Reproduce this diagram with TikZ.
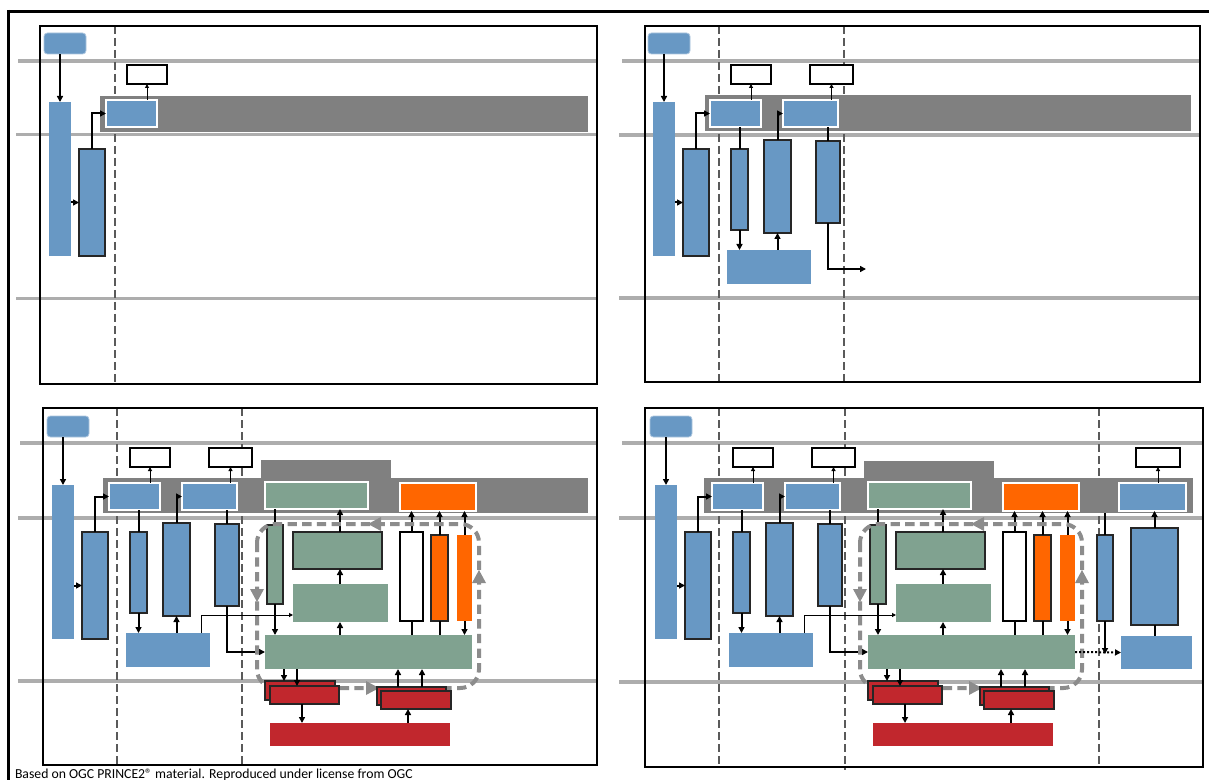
\documentclass[tikz,border=0pt]{standalone}
\usepackage{fontspec}
\setmainfont{Carlito}
\usetikzlibrary{arrows.meta}
\definecolor{pblue}{HTML}{6898C4}
\definecolor{pgreen}{HTML}{80A290}
\definecolor{porange}{HTML}{FF6600}
\definecolor{pred}{HTML}{C1272D}
\definecolor{pband}{HTML}{808080}
\definecolor{plane}{HTML}{ADADAD}
\definecolor{pdash}{HTML}{5A5A5A}
\definecolor{ploop}{HTML}{8C8C8C}
\definecolor{pedge}{HTML}{262626}
\tikzset{
  every node/.style={inner sep=0pt, outer sep=0pt},
  bluebar/.style={fill=pblue},
  bluebox/.style={fill=pblue, draw=pedge, line width=1.1pt},
  inband/.style={draw=white, line width=1.2pt},
  wbox/.style={fill=white, draw=black, line width=0.9pt},
  rbx/.style={fill=pblue, draw=pblue!55!white, line width=0.6pt, rounded corners=2.5pt},
  gbox/.style={fill=pgreen, draw=pedge, line width=1.1pt},
  gbar/.style={fill=pgreen},
  obox/.style={fill=porange, draw=pedge, line width=1.1pt},
  obar/.style={fill=porange},
  rbox/.style={fill=pred, draw=pedge, line width=1.1pt},
  rbar/.style={fill=pred},
  arr/.style={line width=1.5pt, -{Triangle[length=4.5pt,width=4.5pt]}},
  tarr/.style={line width=0.75pt, -{Triangle[length=3pt,width=3pt]}},
  conn/.style={line width=1.5pt},
  lane/.style={draw=plane, line width=2.5pt},
  dline/.style={draw=pdash, line width=1pt, dash pattern=on 6pt off 3pt},
  pframe/.style={draw=black, line width=1.2pt},
  loopline/.style={draw=ploop, line width=3pt, dash pattern=on 7pt off 4pt, rounded corners=14pt},
}
% box from corners (pixel coordinates)
\newcommand\bx[6]{%
  \node[#1, minimum width={(#5-#3)*0.75pt}, minimum height={(#6-#4)*0.75pt}] (#2) at ({(#3+#5)/2},{(#4+#6)/2}) {};}
\newcommand\commonpart[1]{%
  \bx{rbx}{#1rb}{47}{416}{89}{437}
  \bx{bluebar}{#1tb}{52}{485}{74}{639}
  \bx{bluebox}{#1sb}{82}{532}{108}{639}
  \bx{inband,fill=pblue}{#1b1}{109}{483}{160}{510}
  \bx{wbox}{#1w1}{130}{448}{170}{467}
  \draw[arr] (#1rb.south -| #1tb.north) -- (#1tb.north);
  \draw[arr] (#1tb.east |- #1sb.west) -- (#1sb.west);
  \draw[arr] (#1sb.north) |- (#1b1.west);
  \draw[tarr] (#1w1.south |- #1b1.north) -- (#1w1.south);
}
\newcommand\stagetwo[1]{%
  \bx{inband,fill=pblue}{#1b2}{182}{483}{237}{510}
  \bx{wbox}{#1w2}{209}{448}{252}{467}
  \bx{bluebox}{#1bA}{130}{532}{147}{613}
  \bx{bluebox}{#1bB}{163}{523}{190}{616}
  \bx{bluebar}{#1R}{126}{633}{210}{667}
  \bx{bluebox}{#1bC}{215}{524}{239}{606}
  \draw[tarr] (#1w2.south |- #1b2.north) -- (#1w2.south);
  \draw[conn] (#1b1.south -| #1bA.north) -- (#1bA.north);
  \draw[arr] (#1bA.south) -- (#1bA.south |- #1R.north);
  \draw[arr] (#1R.north -| #1bB.south) -- (#1bB.south);
  \draw[arr] (#1bB.north) |- (#1b2.west);
  \draw[conn] (#1b2.south -| #1bC.north) -- (#1bC.north);
}
\newcommand\stagethree[1]{%
  \bx{inband,fill=pgreen}{#1G0}{265}{482}{368}{509}
  \bx{inband,fill=porange}{#1O0}{400}{483}{476}{511}
  \bx{gbox}{#1Gn}{267}{525}{283}{604}
  \bx{gbox}{#1Gt}{293}{532}{382}{569}
  \bx{gbar}{#1Gm}{293}{584}{388}{622}
  \bx{gbar}{#1GB}{265}{635}{472}{669}
  \bx{wbox}{#1Wb}{400}{532}{423}{621}
  \bx{obox}{#1Ob1}{431}{535}{448}{621}
  \bx{obar}{#1Ob2}{457}{535}{472}{621}
  \coordinate (#1c1) at (201,615);
  \coordinate (#1xg) at (340,0);
  \draw[tarr] (#1R.north -| #1c1) |- (#1Gm.west |- #1c1);
  \draw[arr] (#1bC.south) |- (#1GB.west);
  \draw[conn] (#1G0.south -| #1Gn.north) -- (#1Gn.north);
  \draw[arr] (#1Gn.south) -- (#1Gn.south |- #1GB.north);
  \draw[arr] (#1GB.north -| #1xg) -- (#1Gm.south -| #1xg);
  \draw[arr] (#1Gm.north -| #1xg) -- (#1Gt.south -| #1xg);
  \draw[arr] (#1Gt.north -| #1xg) -- (#1G0.south -| #1xg);
  \draw[conn] (#1GB.north -| #1Wb.south) -- (#1Wb.south);
  \draw[arr] (#1Wb.north) -- (#1Wb.north |- #1O0.south);
  \draw[conn] (#1GB.north -| #1Ob1.south) -- (#1Ob1.south);
  \draw[arr] (#1Ob1.north) -- (#1Ob1.north |- #1O0.south);
  \draw[arr] (#1Ob2.north) -- (#1Ob2.north |- #1O0.south);
  \draw[arr] (#1Ob2.south) -- (#1Ob2.south |- #1GB.north);
  % control loop
  \draw[loopline] (257,524) rectangle (479,688);
  \fill[ploop] (368,524) -- (381,517) -- (381,531) -- cycle;
  \fill[ploop] (257,602) -- (250,589) -- (264,589) -- cycle;
  \fill[ploop] (479,570) -- (472,583) -- (486,583) -- cycle;
  \fill[ploop] (379,688) -- (366,681) -- (366,695) -- cycle;
  % red boxes
  \bx{rbox}{#1r1a}{265}{681}{335}{700}
  \bx{rbox}{#1r1b}{270}{686}{339}{704}
  \bx{rbox}{#1r2a}{377}{687}{446}{705}
  \bx{rbox}{#1r2b}{381}{691}{451}{709}
  \bx{rbar}{#1RR}{270}{723}{450}{746}
  \coordinate (#1xa) at (284,0);
  \coordinate (#1xb) at (297,0);
  \coordinate (#1xc) at (398,0);
  \coordinate (#1xd) at (422,0);
  \coordinate (#1xe) at (302,0);
  \coordinate (#1xf) at (408,0);
  \draw[arr] (#1GB.south -| #1xa) -- (#1r1a.north -| #1xa);
  \draw[arr] (#1GB.south -| #1xb) -- (#1r1b.north -| #1xb);
  \draw[arr] (#1r2a.north -| #1xc) -- (#1GB.south -| #1xc);
  \draw[arr] (#1r2a.north -| #1xd) -- (#1GB.south -| #1xd);
  \draw[arr] (#1r1b.south -| #1xe) -- (#1RR.north -| #1xe);
  \draw[arr] (#1RR.north -| #1xf) -- (#1r2b.south -| #1xf);
}
\begin{document}
\begin{tikzpicture}[x=0.75pt, y=-0.75pt]
\useasboundingbox (0,0) rectangle (1209,780);
\fill[white] (0,0) rectangle (1209,780);
% outer frame
\draw[line width=2.8pt, black] (7,11.5) -- (1209,11.5);
\draw[line width=2.8pt, black] (8.5,10) -- (8.5,780);
% lanes
\draw[lane] (18,61) -- (597,61);
\draw[lane] (16,134.5) -- (597,134.5);
\draw[lane] (16,298.5) -- (597,298.5);
\draw[lane] (622,61) -- (1200,61);
\draw[lane] (619,135) -- (1200,135);
\draw[lane] (619,298) -- (1200,298);
\draw[lane] (20,443) -- (597,443);
\draw[lane] (18,518) -- (597,518);
\draw[lane] (18,681) -- (597,681);
\draw[lane] (622,443) -- (1203,443);
\draw[lane] (619,518) -- (1203,518);
\draw[lane] (619,682) -- (1203,682);
% stage boundaries
\draw[dline] (115,26) -- (115,384);
\draw[dline] (719,26) -- (719,382);
\draw[dline] (844,26) -- (844,382);
\draw[dline] (117,408) -- (117,765);
\draw[dline] (242,408) -- (242,765);
\draw[dline] (719,408) -- (719,767);
\draw[dline] (845,408) -- (845,770);
\draw[dline] (1099,408) -- (1099,767);
% bands
\fill[pband] (100,96) rectangle (588,132);
\fill[pband] (705,95) rectangle (1191,131);
\fill[pband] (103,478) rectangle (588,513);
\fill[pband] (261,460) rectangle (391,478);
\fill[pband] (704,478) rectangle (1193,513);
\fill[pband] (864,461) rectangle (994,478);
% panel frames
\draw[pframe] (40,26) rectangle (597,384);
\draw[pframe] (645,26) rectangle (1200,382);
\draw[pframe] (43,408) rectangle (597,765);
\draw[pframe] (645,408) rectangle (1203,767);
% panel 1
\begin{scope}[shift={(-3,-383)}]
  \commonpart{pa}
\end{scope}
% panel 2
\begin{scope}[shift={(601,-383)}]
  \commonpart{pb}
  \stagetwo{pb}
  \coordinate (pbend) at (265,652);
  \draw[arr] (pbbC.south) |- (pbend);
\end{scope}
% panel 3
\begin{scope}
  \commonpart{pc}
  \stagetwo{pc}
  \stagethree{pc}
\end{scope}
% panel 4
\begin{scope}[shift={(603,0)}]
  \commonpart{pd}
  \stagetwo{pd}
  \stagethree{pd}
  \bx{inband,fill=pblue}{pdB3}{516}{483}{583}{511}
  \bx{wbox}{pdw3}{533}{448}{577}{467}
  \bx{bluebox}{pdbD}{494}{535}{510}{621}
  \bx{bluebox}{pdbE}{528}{528}{575}{625}
  \bx{bluebar}{pdBR}{518}{636}{589}{669}
  \coordinate (pdbandb) at (502,513);
  \coordinate (pddend) at (502,654);
  \draw[tarr] (pdw3.south |- pdB3.north) -- (pdw3.south);
  \draw[conn] (pdbandb) -- (pdbD.north);
  \draw[arr] (pdbD.south) -- (pddend);
  \draw[arr] (pdbE.north) -- (pdbE.north |- pdB3.south);
  \draw[conn] (pdbE.south) -- (pdbE.south |- pdBR.north);
  \draw[arr, dash pattern=on 1.5pt off 1.5pt] (pdGB.east) -- (pdBR.west);
\end{scope}
\node[anchor=base west, font=\fontsize{10.3}{12}\selectfont] (cap) at (15,778) {Based on OGC PRINCE2® material. Reproduced under license from OGC};
\end{tikzpicture}
\end{document}
